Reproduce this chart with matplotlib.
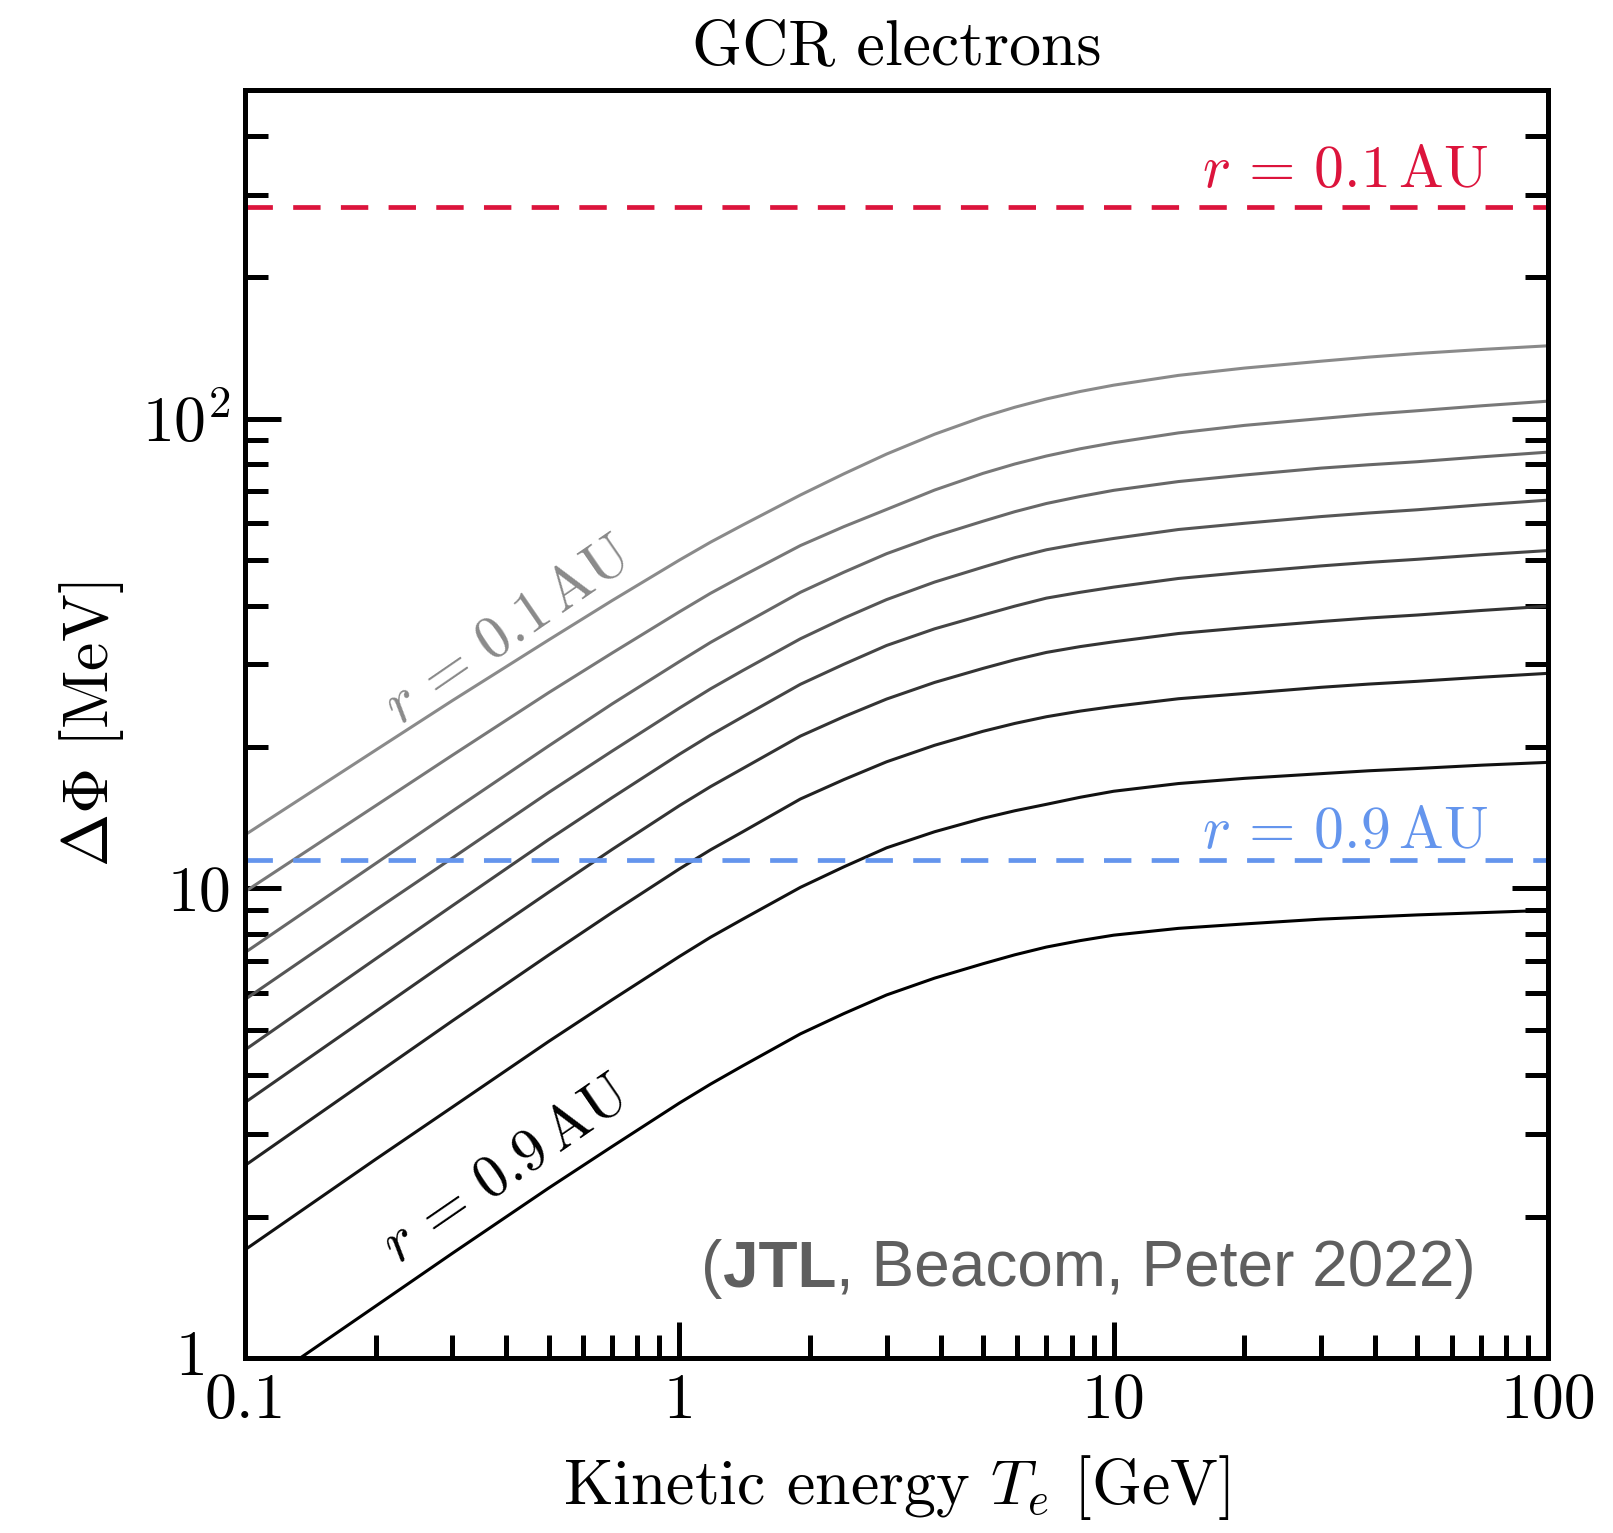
import matplotlib
matplotlib.use('Agg')
import matplotlib.pyplot as plt
from matplotlib.ticker import LogLocator, NullFormatter
from matplotlib.transforms import ScaledTranslation

# ---------------- data ----------------
energy = [0.1, 0.2, 0.3, 0.5, 0.7, 1.0, 1.18, 1.4, 1.9, 2.39, 3, 3.87, 5, 5.92, 7, 8.37,
          10, 14.1, 20, 30, 38.7, 50, 70.7, 100]

r01 = [13.0, 19.7, 25.1, 33.8, 41.0, 50.0, 54.6, 59.4, 68.8, 76.3, 84.1, 92.7, 100.9, 105.8,
       110.2, 114.3, 117.9, 123.7, 128.2, 132.6, 135.3, 137.7, 140.5, 143.0]
r02 = [9.84, 15.0, 19.2, 26.1, 31.7, 38.8, 42.5, 46.3, 53.7, 58.9, 64.1, 70.5, 76.5, 80.1,
       83.3, 86.3, 88.9, 93.3, 96.8, 100.1, 102.2, 104.0, 106.6, 109.0]
r03 = [7.3, 11.3, 14.6, 20.1, 24.7, 30.4, 33.4, 36.5, 42.7, 47.1, 51.6, 56.2, 60.5, 63.4,
       66.0, 68.3, 70.4, 73.5, 75.9, 78.5, 79.8, 81.0, 83.0, 84.9]
r04 = [5.8, 9.0, 11.6, 16.0, 19.6, 24.2, 26.6, 29.1, 34.0, 37.6, 41.2, 44.9, 48.3, 50.6,
       52.6, 54.2, 55.6, 58.1, 59.9, 61.9, 63.0, 64.0, 65.6, 67.1]
r05 = [4.53, 7.08, 9.18, 12.7, 15.6, 19.3, 21.2, 23.2, 27.2, 30.0, 32.9, 35.7, 38.2, 39.9,
       41.5, 42.7, 43.8, 45.7, 47.1, 48.6, 49.45, 50.2, 51.35, 52.4]
r06 = [3.5, 5.47, 7.1, 9.81, 12.1, 15.0, 16.47, 18.0, 21.1, 23.2, 25.3, 27.45, 29.4, 30.67,
       31.8, 32.72, 33.5, 34.89, 35.9, 37.0, 37.65, 38.2, 39.08, 39.9]
r07 = [2.57, 4.02, 5.22, 7.21, 8.88, 11.0, 12.08, 13.2, 15.5, 17.04, 18.6, 20.17, 21.6, 22.45,
       23.2, 23.85, 24.4, 25.34, 26.0, 26.8, 27.23, 27.6, 28.17, 28.7]
r08 = [1.70, 2.65, 3.42, 4.72, 5.79, 7.16, 7.87, 8.60, 10.05, 11.11, 12.2, 13.2, 14.1, 14.63,
       15.1, 15.63, 16.1, 16.72, 17.15, 17.55, 17.8, 18.0, 18.3, 18.55]
r09 = [0.83, 1.29, 1.67, 2.30, 2.82, 3.49, 3.83, 4.19, 4.90, 5.41, 5.93, 6.44, 6.91, 7.22,
       7.5, 7.74, 7.95, 8.22, 8.4, 8.6, 8.69, 8.78, 8.88, 8.98]
curves = [r01, r02, r03, r04, r05, r06, r07, r08, r09]

delta_phi_01 = 282.0   # r = 0.1 AU reference level
delta_phi_09 = 11.47   # r = 0.9 AU reference level

x_ticks = [0.1, 1, 10, 100]
x_ticklabels = ['0.1', '1', '10', '100']
y_ticks = [1, 10, 100]
y_ticklabels = ['1', '10', r'$10^2$']

# ---------------- style ----------------
plt.rcParams['font.family'] = 'cmr10'
plt.rcParams['mathtext.fontset'] = 'cm'
plt.rcParams['axes.formatter.use_mathtext'] = True
plt.rcParams['axes.unicode_minus'] = False

FS = 46
fig = plt.figure(figsize=(16.13, 15.33), dpi=100)
ax = fig.add_axes([245 / 1613, 1 - 1358 / 1533, 1303 / 1613, 1267.5 / 1533])

n = len(curves)
greys = [0.54 * (1 - i / (n - 1)) for i in range(n)]
colors = [(g, g, g) for g in greys]

for vals, c in zip(curves, colors):
    ax.plot(energy, vals, color=c, lw=2.2, solid_joinstyle='round')

ax.axhline(delta_phi_01, color='#DC143C', lw=3.4, dashes=(5.8, 4.3))
ax.axhline(delta_phi_09, color='#6495ED', lw=3.4, dashes=(5.8, 4.3))

ax.set_xscale('log')
ax.set_yscale('log')
ax.set_xlim(0.1, 100)
ax.set_ylim(1, 500)

ax.set_xticks(x_ticks)
ax.set_xticklabels(x_ticklabels)
ax.set_yticks(y_ticks)
ax.set_yticklabels(y_ticklabels)
ax.xaxis.set_minor_locator(LogLocator(base=10, subs=range(2, 10), numticks=20))
ax.yaxis.set_minor_locator(LogLocator(base=10, subs=range(2, 10), numticks=20))
ax.xaxis.set_minor_formatter(NullFormatter())
ax.yaxis.set_minor_formatter(NullFormatter())

ax.tick_params(axis='both', which='major', direction='in', length=26, width=3.6,
               top=False, right=True, labelsize=FS)
ax.tick_params(axis='both', which='minor', direction='in', length=16.5, width=3.6,
               top=False, right=True)
ax.tick_params(axis='x', which='major', pad=11)
ax.tick_params(axis='y', which='major', pad=10)
for s in ax.spines.values():
    s.set_linewidth(3.6)

# the "1" label on the y axis sits to the left of the "0.1" label
lab1 = ax.get_yticklabels()[0]
lab1.set_transform(lab1.get_transform() + ScaledTranslation(-0.24, 0.05, fig.dpi_scale_trans))

ax.set_title('GCR electrons', fontsize=FS, pad=19)
ax.set_xlabel(r'Kinetic energy $T_e$ [GeV]', fontsize=FS, labelpad=16)
ax.set_ylabel(r'$\Delta\Phi$ [MeV]', fontsize=FS, labelpad=12)

# curve labels
LFS = 43
lab01 = r'$r\,=\,0.1\,\mathrm{AU}$'
lab09 = r'$r\,=\,0.9\,\mathrm{AU}$'
ax.text(0.405, 35.2, lab01, rotation=34.5, rotation_mode='anchor',
        ha='center', va='center', fontsize=LFS, color=colors[0])
ax.text(0.40, 2.50, lab09, rotation=34.5, rotation_mode='anchor',
        ha='center', va='center', fontsize=LFS, color=colors[-1])

ax.text(73, 312, lab01, ha='right', va='baseline', fontsize=LFS, color='#DC143C')
ax.text(73, 12.2, lab09, ha='right', va='baseline', fontsize=LFS, color='#6495ED')

# citation with bold part
cite_x, cite_y = 0.9447, 0.0568
cfs = 46
ccol = '#5f5f5f'
t3 = ax.text(cite_x, cite_y, ', Beacom, Peter 2022)', transform=ax.transAxes, ha='right',
             va='baseline', fontsize=cfs, family='Liberation Sans', color=ccol)
fig.canvas.draw()
bb = t3.get_window_extent()
x2 = ax.transAxes.inverted().transform((bb.x0, bb.y0))[0]
t2 = ax.text(x2, cite_y, 'JTL', transform=ax.transAxes, ha='right', va='baseline',
             fontsize=cfs, family='Liberation Sans', weight='bold', color=ccol)
fig.canvas.draw()
bb = t2.get_window_extent()
x1 = ax.transAxes.inverted().transform((bb.x0, bb.y0))[0]
ax.text(x1, cite_y, '(', transform=ax.transAxes, ha='right', va='baseline',
        fontsize=cfs, family='Liberation Sans', color=ccol)

fig.savefig('out.png', dpi=100)
